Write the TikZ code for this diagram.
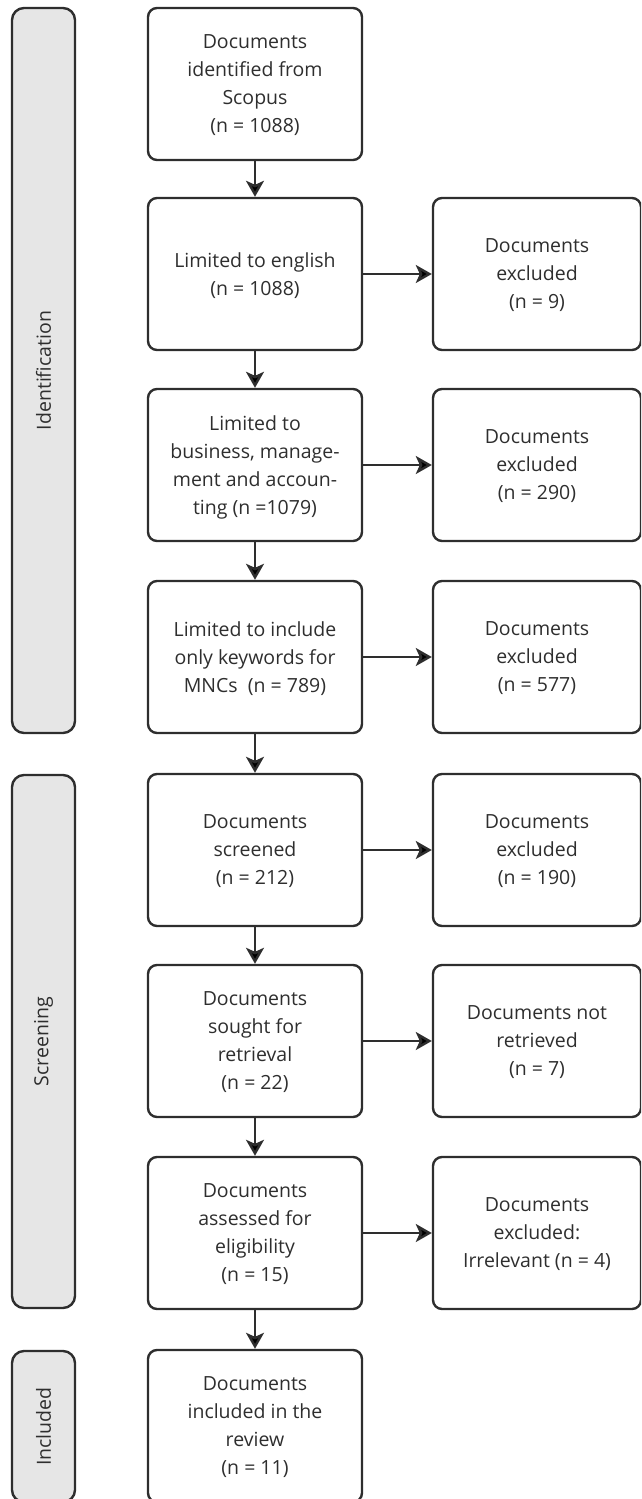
\documentclass[tikz,border=0pt]{standalone}
\usepackage{fontspec}
\setmainfont{Open Sans}
\usetikzlibrary{arrows.meta}
\definecolor{ink}{HTML}{2E2E2E}
\definecolor{band}{HTML}{E6E6E6}

\begin{document}
\begin{tikzpicture}[x=1pt,y=-1pt,>={Stealth[length=16pt,width=18pt,inset=4pt]}]
	\clip (0,0) rectangle (641,1499);
	\begin{scope}[every node/.style={draw=ink,line width=2.4pt,rounded corners=9pt,align=center,text=ink,inner sep=0pt,minimum height=152pt,text depth=-3pt,font=\fontsize{19.5}{28}\selectfont}]
		\node[minimum width=214pt] (1) at (255,84) {Documents\\identified from\\Scopus\\(n = 1088)};
		\node[minimum width=214pt] (2) at (255,274) {Limited to english\\(n = 1088)};
		\node[minimum width=214pt] (3) at (255,465) {Limited to\\business, manage-\\ment and accoun-\\ting (n =1079)};
		\node[minimum width=214pt] (4) at (255,657) {Limited to include\\only keywords for\\MNCs~~(n = 789)};
		\node[minimum width=214pt] (5) at (255,850) {Documents\\screened\\(n = 212)};
		\node[minimum width=214pt] (6) at (255,1041) {Documents\\sought for\\retrieval\\(n = 22)};
		\node[minimum width=214pt] (7) at (255,1233) {Documents\\assessed for\\eligibility\\(n = 15)};
		\node[minimum width=214pt] (8) at (255,1426) {Documents\\included in the\\review\\(n = 11)};
		\node[minimum width=208pt] (x2) at (537,274) {Documents\\excluded\\(n = 9)};
		\node[minimum width=208pt] (x3) at (537,465) {Documents\\excluded\\(n = 290)};
		\node[minimum width=208pt] (x4) at (537,657) {Documents\\excluded\\(n = 577)};
		\node[minimum width=208pt] (x5) at (537,850) {Documents\\excluded\\(n = 190)};
		\node[minimum width=208pt] (x6) at (537,1041) {Documents not\\retrieved\\(n = 7)};
		\node[minimum width=208pt] (x7) at (537,1233) {Documents\\excluded:\\Irrelevant (n = 4)};
	\end{scope}
	\begin{scope}[every node/.style={draw=ink,fill=band,line width=2.4pt,rounded corners=12pt,rotate=90,text=ink,inner sep=0pt,minimum height=63pt,font=\fontsize{19.5}{28}\selectfont}]
		\node[minimum width=725pt] (id) at (43.5,370.5) {Identification};
		\node[minimum width=533pt] (sc) at (43.5,1041.5) {Screening};
		\node[minimum width=151pt] (in) at (43.5,1426.5) {Included};
	\end{scope}
	\path [->,draw=ink,line width=2.4pt](1) edge (2);
	\path [->,draw=ink,line width=2.4pt](2) edge (3);
	\path [->,draw=ink,line width=2.4pt](3) edge (4);
	\path [->,draw=ink,line width=2.4pt](4) edge (5);
	\path [->,draw=ink,line width=2.4pt](5) edge (6);
	\path [->,draw=ink,line width=2.4pt](6) edge (7);
	\path [->,draw=ink,line width=2.4pt](7) edge (8);
	\path [->,draw=ink,line width=2.4pt](2) edge (x2);
	\path [->,draw=ink,line width=2.4pt](3) edge (x3);
	\path [->,draw=ink,line width=2.4pt](4) edge (x4);
	\path [->,draw=ink,line width=2.4pt](5) edge (x5);
	\path [->,draw=ink,line width=2.4pt](6) edge (x6);
	\path [->,draw=ink,line width=2.4pt](7) edge (x7);

\end{tikzpicture}
\end{document}
